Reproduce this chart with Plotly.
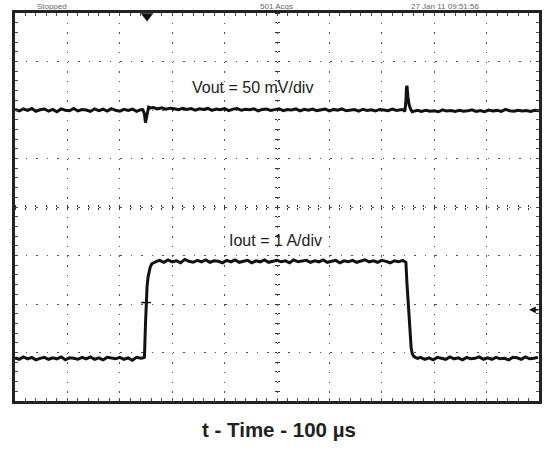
import plotly.graph_objects as go

# ---------------- data (read from the scope screen) ----------------
# time in microseconds (100 us/div, 10 divisions)
vout_t = ([*range(0, 241, 8)] + [244, 247, 249, 251, 253, 255, 258]
          + [*range(264, 737, 8)] + [741, 744, 746, 747, 748, 750, 752, 755, 758, 762]
          + [*range(768, 1001, 8)])
# Vout deviation in mV (50 mV/div)
vout_mV = ([0.5, -1.0, 1.2, -0.4, 1.5, -1.3, 0.2, 1.0, -1.2, 0.6, -1.8, 1.1, -0.2, -0.8, 1.6, -1.0,
            0.4, 0.0, -1.5, 1.2, -0.6, 0.8, -1.1, 1.4, -0.3, -1.2, 0.7, -0.5, 1.0, -1.4, 0.3]
           + [0.2, -4.0, -13.0, -7.5, -1.0, 3.0, 2.2]
           + [2.5, 1.0, 2.2, 0.8, 1.9, 1.2, 0.4, 1.8, 0.6, 1.5,
              -0.2, 1.3, 0.5, 1.6, -0.4, 1.1, 0.3, 1.4, -0.6, 0.9,
              1.5, -0.3, 0.8, 0.2, 1.2, -0.8, 0.6, 1.0, -0.5, 0.4,
              1.3, -0.7, 0.5, 0.1, 1.1, -0.9, 0.7, -0.2, 1.0, -0.6,
              0.3, 0.9, -1.0, 0.6, -0.3, 1.2, -0.8, 0.2, 0.5, -1.1,
              0.8, -0.4, 0.3, -0.9, 0.6, 0.0, -0.7, 0.9, -0.5, 0.2]
           + [0.4, -1.5, 9.0, 22.0, 25.0, 13.0, 5.5, 1.0, -1.8, -1.2]
           + [-0.4, -1.6, -0.2, -1.3, -0.7, -1.8, 0.1, -1.1, -0.5, -1.5,
              -0.3, -1.2, -0.9, 0.2, -1.4, -0.6, -1.7, -0.1, -1.0, -0.4,
              -1.5, 0.6, -0.8, -1.3, -0.2, -1.1, -0.6, -1.6, -0.3, -0.9])

iout_t = ([*range(0, 241, 8)] + [245, 247, 249, 250, 252, 254, 256, 258, 261, 265, 270]
          + [*range(276, 741, 8)] + [743, 746, 748, 750, 752, 754, 756, 758, 761, 764, 768]
          + [*range(774, 1001, 8)])
# Iout in A (1 A/div)
iout_A = ([0.01, -0.02, 0.03, -0.01, 0.02, -0.03, 0.0, 0.02, -0.02, 0.01,
           -0.01, 0.03, -0.03, 0.01, 0.0, -0.02, 0.02, -0.01, 0.03, -0.02,
           0.01, -0.03, 0.02, 0.0, -0.01, 0.02, -0.02, 0.01, -0.04, 0.02, 0.0]
          + [0.01, 0.02, 0.7, 1.15, 1.48, 1.68, 1.8, 1.88, 1.95, 1.98, 2.0]
          + [2.02, 1.98, 2.03, 1.99, 2.01, 1.97, 2.04, 2.0, 1.98, 2.02,
             1.99, 2.03, 1.98, 2.01, 2.0, 1.97, 2.02, 1.99, 2.03, 1.98,
             2.0, 2.02, 1.97, 2.01, 1.99, 2.03, 1.98, 2.0, 2.02, 1.99,
             2.01, 1.97, 2.03, 1.99, 2.0, 2.02, 1.98, 2.01, 1.99, 2.03,
             1.98, 2.0, 2.02, 1.97, 2.01, 1.99, 2.02, 1.98, 2.0, 2.03,
             1.99, 2.01, 1.98, 2.02, 2.0, 1.97, 2.01, 1.99, 2.02]
          + [2.0, 1.98, 1.55, 1.18, 0.82, 0.45, 0.22, 0.1, 0.04, 0.02, 0.0]
          + [0.02, -0.02, 0.01, -0.03, 0.02, 0.0, -0.02, 0.03, -0.01, 0.01,
             -0.03, 0.02, -0.01, 0.0, 0.03, -0.02, 0.01, -0.02, 0.02, -0.01,
             0.0, -0.03, 0.02, 0.01, -0.02, 0.03, -0.01, 0.0, 0.02])

assert len(vout_t) == len(vout_mV) and len(iout_t) == len(iout_A)

# channel settings (divisions)
VOUT_SCALE_MV = 50.0
VOUT_POS_DIV = 2.0
IOUT_SCALE_A = 1.0
IOUT_POS_DIV = -3.12
TRIG_TIME_US = 250
TRIG_LEVEL_A = 1.0

label_vout = "Vout = 50 mV/div"
label_iout = "Iout = 1 A/div"
x_title = "t - Time - 100 \u00b5s"
header_texts = ["Stopped", "501 Acqs", "27 Jan 11 09:51:56"]

T_RANGE = [0, 1000]
DIV_RANGE = [-4, 4]

vout_div = [v / VOUT_SCALE_MV + VOUT_POS_DIV for v in vout_mV]
iout_div = [i / IOUT_SCALE_A + IOUT_POS_DIV for i in iout_A]
trig_div = TRIG_LEVEL_A / IOUT_SCALE_A + IOUT_POS_DIV
trig_mark_div = iout_A[iout_t.index(TRIG_TIME_US)] / IOUT_SCALE_A + IOUT_POS_DIV

FRAME = "#222222"
GRID = "#4d4d4d"
TRACE = "#111111"
FONT = "Liberation Sans, Arial, Helvetica, sans-serif"

fig = go.Figure()
fig.add_trace(go.Scatter(x=vout_t, y=vout_div, mode="lines",
                         line=dict(color=TRACE, width=3), hoverinfo="skip"))
fig.add_trace(go.Scatter(x=iout_t, y=iout_div, mode="lines",
                         line=dict(color=TRACE, width=3), hoverinfo="skip"))
# trigger point mark on the current edge
fig.add_trace(go.Scatter(x=[TRIG_TIME_US], y=[trig_mark_div], mode="markers",
                         marker=dict(symbol="line-ew", size=7, line=dict(color=TRACE, width=1.5)),
                         hoverinfo="skip", cliponaxis=False))
# trigger position marker at the top
fig.add_trace(go.Scatter(x=[TRIG_TIME_US + 2], y=[DIV_RANGE[1] - 0.06], mode="markers",
                         marker=dict(symbol="triangle-down", size=11, color=TRACE),
                         hoverinfo="skip", cliponaxis=False))

axis_common = dict(showticklabels=False, zeroline=False, showline=True, linewidth=3,
                   linecolor=FRAME, mirror="allticks", ticks="inside", ticklen=3,
                   tickwidth=1, tickcolor=GRID, showgrid=True, gridcolor=GRID, gridwidth=1)

fig.update_layout(
    width=552, height=450,
    margin=dict(l=15, r=10, t=12, b=49),
    paper_bgcolor="white", plot_bgcolor="white",
    showlegend=False,
    font=dict(family=FONT, color="#222222"),
    xaxis=dict(range=T_RANGE, tick0=0, dtick=100, griddash="1.5px,8.2px",
               minor=dict(ticks="inside", ticklen=3, dtick=20, tickcolor=GRID, showgrid=False),
               **axis_common),
    yaxis=dict(range=DIV_RANGE, tick0=0, dtick=1, griddash="1.5px,9.0px",
               minor=dict(ticks="inside", ticklen=3, dtick=0.2, tickcolor=GRID, showgrid=False),
               **axis_common),
)

center_axis = dict(anchor="free", position=0.5, showticklabels=False, showgrid=False,
                   zeroline=False, showline=False, ticks="outside", ticklen=2,
                   tickwidth=1, tickcolor="#333333")
fig.update_layout(
    xaxis2=dict(overlaying="x", side="bottom", range=T_RANGE, tick0=0, dtick=100,
                minor=dict(ticks="outside", ticklen=2, dtick=20, tickcolor="#333333"), **center_axis),
    xaxis3=dict(overlaying="x", side="top", range=T_RANGE, tick0=0, dtick=100,
                minor=dict(ticks="outside", ticklen=2, dtick=20, tickcolor="#333333"), **center_axis),
    yaxis2=dict(overlaying="y", side="left", range=DIV_RANGE, tick0=0, dtick=1,
                minor=dict(ticks="outside", ticklen=2, dtick=0.2, tickcolor="#333333"), **center_axis),
    yaxis3=dict(overlaying="y", side="right", range=DIV_RANGE, tick0=0, dtick=1,
                minor=dict(ticks="outside", ticklen=2, dtick=0.2, tickcolor="#333333"), **center_axis),
)
# anchor traces so the centre axes are drawn
for xa, ya in [("x2", "y"), ("x3", "y"), ("x", "y2"), ("x", "y3")]:
    fig.add_trace(go.Scatter(x=[None], y=[None], xaxis=xa, yaxis=ya, mode="lines",
                             hoverinfo="skip", showlegend=False))

annotations = [
    dict(x=453, y=2.46, xref="x", yref="y", text=label_vout, showarrow=False,
         xanchor="center", yanchor="middle",
         font=dict(size=16, family=FONT, color="#222222")),
    dict(x=498, y=-0.69, xref="x", yref="y", text=label_iout, showarrow=False,
         xanchor="center", yanchor="middle",
         font=dict(size=16, family=FONT, color="#222222")),
    dict(x=0.5047, y=-0.0746, xref="paper", yref="paper", text="<b>" + x_title + "</b>",
         showarrow=False, xanchor="center", yanchor="middle",
         font=dict(size=20.5, family=FONT, color="#222222")),
    # trigger level arrow on the right edge
    dict(x=981, y=trig_div, xref="x", yref="y", ax=11, ay=0, text="", showarrow=True,
         arrowhead=2, arrowsize=0.9, arrowwidth=1.5, arrowcolor=TRACE),
]
for txt, px in zip(header_texts, [0.07, 0.499, 0.82]):
    annotations.append(dict(x=px, y=1.018, xref="paper", yref="paper", text=txt,
                            showarrow=False, xanchor="center", yanchor="middle",
                            font=dict(size=8, family=FONT, color="#666666")))
fig.update_layout(annotations=annotations)

fig.write_html("out.html", config={"displayModeBar": False},
               post_script="document.body.style.margin='0';document.body.style.overflow='hidden';")
